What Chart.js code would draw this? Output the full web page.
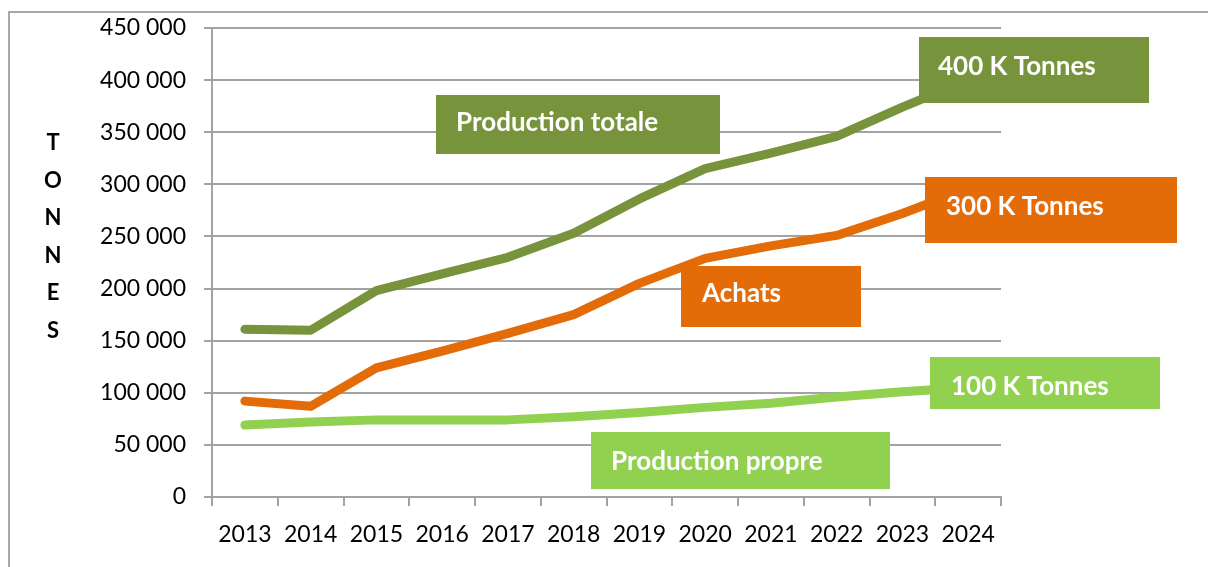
<!DOCTYPE html>
<html>
<head>
<meta charset="utf-8">
<script src="https://cdn.jsdelivr.net/npm/chart.js@4"></script>
<style>
  html, body { margin: 0; padding: 0; background: #ffffff; }
  #wrap { width: 1208px; height: 567px; position: relative; }
</style>
</head>
<body>
<div id="wrap"><canvas id="c" width="1208" height="567"></canvas></div>
<script>
// ---- data ----
const years = ['2013','2014','2015','2016','2017','2018','2019','2020','2021','2022','2023','2024'];
const productionTotale = [161000, 160000, 198000, 214000, 230000, 253000, 286000, 315000, 330000, 346000, 374000, 400000];
const achats = [92000, 87000, 124000, 140000, 157000, 175000, 205000, 229000, 241000, 251000, 272000, 296000];
const productionPropre = [69000, 72000, 74000, 74000, 74000, 77000, 81000, 86000, 90000, 96000, 101000, 105000];
const yTitleLetters = ['T','O','N','N','E','S'];
const boxLabels = ['Production totale', '400 K Tonnes', '300 K Tonnes', 'Achats', '100 K Tonnes', 'Production propre'];

// ---- styles ----
const DARK = '#77933C', ORANGE = '#E36C09', LIGHT = '#92D050';
const GRID = '#a3a3a3';
const FONT = 'Lato, "Open Sans", sans-serif';

const boxStyles = [
  {x: 436, y: 95, w: 284, h: 59, tx: 456, ty: 131, color: DARK},
  {x: 919, y: 37, w: 230, h: 66, tx: 938, ty: 75, color: DARK},
  {x: 925, y: 177, w: 252, h: 66, tx: 946, ty: 215, color: ORANGE},
  {x: 681, y: 266, w: 180, h: 61, tx: 702, ty: 302, color: ORANGE},
  {x: 930, y: 357, w: 230, h: 52, tx: 951, ty: 395, color: LIGHT},
  {x: 591, y: 432, w: 299, h: 57, tx: 611, ty: 470, color: LIGHT}
];

function fmt(v) { return String(v).replace(/\B(?=(\d{3})+(?!\d))/g, ' '); }

const decor = {
  id: 'decor',
  beforeDraw(chart) {
    const ctx = chart.ctx;
    ctx.save();
    ctx.fillStyle = '#ffffff';
    ctx.fillRect(0, 0, chart.width, chart.height);
    ctx.strokeStyle = '#a8a8a8';
    ctx.lineWidth = 2;
    ctx.beginPath();
    ctx.moveTo(9, 580); ctx.lineTo(9, 12); ctx.lineTo(1220, 12);
    ctx.stroke();
    // y axis title, stacked letters
    ctx.fillStyle = '#000';
    ctx.font = 'bold 22px ' + FONT;
    ctx.textAlign = 'center';
    ctx.textBaseline = 'alphabetic';
    yTitleLetters.forEach((l, i) => ctx.fillText(l, 53, 150 + i * 37.6));
    ctx.restore();
  },
  afterDatasetsDraw(chart) {
    const ctx = chart.ctx;
    ctx.save();
    ctx.font = 'bold 26px ' + FONT;
    ctx.textAlign = 'left';
    ctx.textBaseline = 'alphabetic';
    boxLabels.forEach((t, i) => {
      const b = boxStyles[i];
      ctx.fillStyle = b.color;
      ctx.fillRect(b.x, b.y, b.w, b.h);
      ctx.fillStyle = '#ffffff';
      ctx.fillText(t, b.tx, b.ty);
    });
    ctx.restore();
  }
};

const lineStyle = (color) => ({
  borderColor: color, backgroundColor: color, borderWidth: 9,
  pointRadius: 0, pointHoverRadius: 0, tension: 0, fill: false,
  borderCapStyle: 'round', borderJoinStyle: 'round'
});

new Chart(document.getElementById('c'), {
  type: 'line',
  data: {
    labels: years,
    datasets: [
      Object.assign({label: 'Production totale', data: productionTotale}, lineStyle(DARK)),
      Object.assign({label: 'Achats', data: achats}, lineStyle(ORANGE)),
      Object.assign({label: 'Production propre', data: productionPropre}, lineStyle(LIGHT))
    ]
  },
  options: {
    responsive: false,
    animation: false,
    events: [],
    layout: { padding: { left: 0, right: 207, top: 28, bottom: 0 } },
    plugins: { legend: { display: false }, tooltip: { enabled: false } },
    scales: {
      x: {
        offset: true,
        grid: { offset: true, drawOnChartArea: false, drawTicks: true, tickLength: 9, color: GRID, lineWidth: 2 },
        border: { color: GRID, width: 2 },
        ticks: { color: '#000', font: { family: FONT, size: 23 }, padding: 15, maxRotation: 0, autoSkip: false },
        afterFit(s) { s.height = 70; }
      },
      y: {
        min: 0, max: 450000,
        ticks: { stepSize: 50000, color: '#000', font: { family: FONT, size: 23 }, padding: 18, callback: (v) => fmt(v) },
        grid: { color: GRID, lineWidth: 2, tickLength: 8, drawTicks: true },
        border: { color: GRID, width: 2 },
        afterFit(s) { s.width = 212; s.paddingTop = 0; s.paddingBottom = 0; }
      }
    }
  },
  plugins: [decor]
});
</script>
</body>
</html>
